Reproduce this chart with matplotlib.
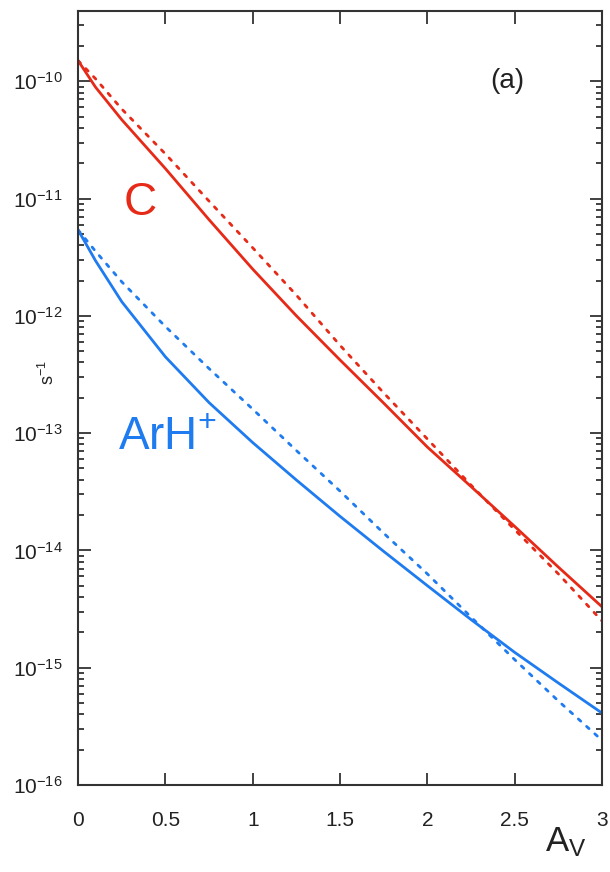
import numpy as np
import matplotlib
matplotlib.use("Agg")
import matplotlib.pyplot as plt
from matplotlib.ticker import LogLocator, FixedLocator

plt.rcParams["font.family"] = ["Liberation Sans", "DejaVu Sans"]
plt.rcParams["mathtext.fontset"] = "custom"
plt.rcParams["mathtext.rm"] = "Liberation Sans"
plt.rcParams["mathtext.it"] = "Liberation Sans:italic"
plt.rcParams["mathtext.bf"] = "Liberation Sans:bold"

# visual extinction
av = [0, 0.1, 0.25, 0.5, 0.75, 1.0, 1.25, 1.5, 1.75, 2.0, 2.25, 2.5, 2.75, 3.0]

# photodissociation / photoionisation rates (s^-1)
c_solid = [1.5e-10, 8.9e-11, 4.7e-11, 1.8e-11, 6.6e-12, 2.5e-12, 1.0e-12,
           4.2e-13, 1.8e-13, 7.6e-14, 3.5e-14, 1.6e-14, 7.2e-15, 3.3e-15]
c_dash = [1.5e-10, 1.05e-10, 5.8e-11, 2.4e-11, 9.5e-12, 3.8e-12, 1.5e-12,
          5.6e-13, 2.2e-13, 8.9e-14, 3.6e-14, 1.5e-14, 6.3e-15, 2.5e-15]
arh_solid = [5.4e-12, 2.95e-12, 1.32e-12, 4.47e-13, 1.82e-13, 8.3e-14, 3.98e-14,
             1.95e-14, 9.8e-15, 5.0e-15, 2.57e-15, 1.35e-15, 7.4e-16, 4.1e-16]
arh_dash = [5.4e-12, 3.55e-12, 1.95e-12, 8.1e-13, 3.55e-13, 1.6e-13, 7.1e-14,
            3.2e-14, 1.4e-14, 6.3e-15, 2.7e-15, 1.17e-15, 5.2e-16, 2.4e-16]

xticks = [0, 0.5, 1, 1.5, 2, 2.5, 3]
xticklabels = ["0", "0.5", "1", "1.5", "2", "2.5", "3"]

red = "#e62a17"
blue = "#1f7bf0"
dotted = (0, (1.2, 2.8))

fig = plt.figure(figsize=(6.1, 8.72), dpi=100)
ax = fig.add_axes([0.128, 0.0998, 0.859, 0.888])

ax.plot(av, c_solid, color=red, lw=2.0)
ax.plot(av, c_dash, color=red, lw=2.0, linestyle=dotted, dash_capstyle="round")
ax.plot(av, arh_solid, color=blue, lw=2.0)
ax.plot(av, arh_dash, color=blue, lw=2.0, linestyle=dotted, dash_capstyle="round")

ax.set_yscale("log")
ax.set_xlim(0, 3)
ax.set_ylim(1e-16, 4e-10)

ax.xaxis.set_major_locator(FixedLocator(xticks))
ax.set_xticklabels(xticklabels)
ax.yaxis.set_major_locator(LogLocator(base=10, numticks=20))
ax.yaxis.set_minor_locator(LogLocator(base=10, subs=np.arange(2, 10), numticks=20))

ax.tick_params(which="both", direction="in", top=True, right=True,
               color="#333333", width=1.3)
ax.tick_params(which="major", length=9, labelsize=15, labelcolor="#222222")
ax.tick_params(which="minor", length=4.5)
ax.tick_params(axis="x", which="major", pad=19)
ax.tick_params(axis="y", which="major", pad=11)
for sp in ax.spines.values():
    sp.set_linewidth(1.5)
    sp.set_color("#333333")

ax.text(0.355, 7.2e-12, "C", color=red, fontsize=33, ha="center", va="baseline")
ax.text(0.23, 7.2e-14, "ArH$^{+}$", color=blue, fontsize=33, ha="left", va="baseline")
ax.text(2.455, 1e-10, "(a)", color="#222222", fontsize=20, ha="center", va="center")

ax.set_ylabel("s$^{-1}$", fontsize=13, color="#222222")
ax.yaxis.set_label_coords(-0.038, 0.533)
ax.set_xlabel("A$_{\\mathregular{V}}$", fontsize=25, color="#222222")
ax.xaxis.set_label_coords(0.93, -0.052)

fig.savefig("out.png", dpi=100)
